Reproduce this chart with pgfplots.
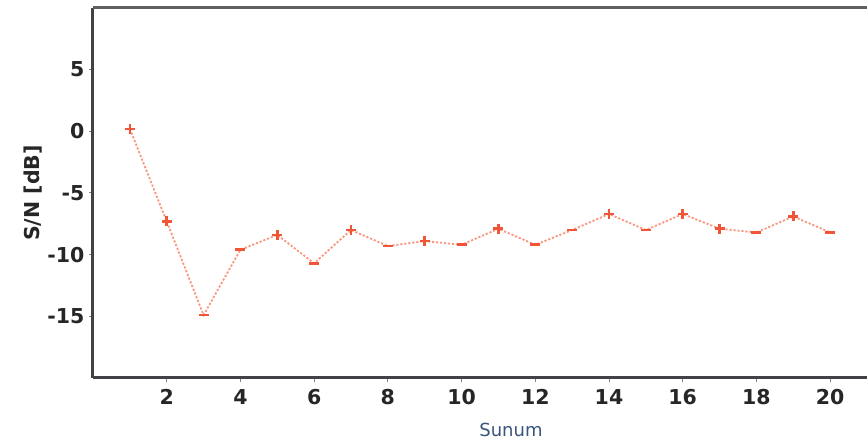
\documentclass[border=0pt]{standalone}
\usepackage{fontspec}
\setmainfont{DejaVu Sans}
\usepackage{pgfplots}
\pgfplotsset{compat=1.18}
\definecolor{linec}{RGB}{248,125,95}
\definecolor{markc}{RGB}{240,85,55}
\definecolor{axc}{RGB}{65,65,70}
\definecolor{labc}{RGB}{55,85,125}
\begin{document}
\begin{tikzpicture}
\begin{axis}[
  scale only axis,
  width=774pt, height=370pt,
  xmin=0, xmax=21, ymin=-20, ymax=10,
  axis lines*=left,
  axis line style={axc, line width=3pt},
  xtick={2,4,...,20},
  ytick={-15,-10,-5,0,5},
  tick style={gray, line width=1pt},
  tick align=outside,
  major tick length=4pt,
  /pgf/number format/assume math mode=true,
  ticklabel style={font=\fontsize{20.5}{22}\selectfont\bfseries, text=black!85},
  xticklabel style={yshift=-4pt},
  yticklabel style={xshift=-1pt},
  xlabel={Sunum},
  xlabel style={at={(axis description cs:0.54,-0.1405)}, anchor=center, font=\fontsize{18}{20}\selectfont, text=labc},
  ylabel={S/N [dB]},
  ylabel style={at={(axis description cs:-0.0775,0.5)}, anchor=center, rotate=0, font=\fontsize{20.5}{22}\selectfont\bfseries, text=black!85},
  clip=false,
]
\addplot[linec, line width=1.8pt, dash pattern=on 2.2pt off 1.8pt, opacity=0.8] coordinates {
(1,0.2) (2,-7.3) (3,-14.9) (4,-9.6) (5,-8.4) (6,-10.7) (7,-8.0) (8,-9.3) (9,-8.9) (10,-9.2)
(11,-7.9) (12,-9.2) (13,-8.0) (14,-6.7) (15,-8.0) (16,-6.7) (17,-7.9) (18,-8.2) (19,-6.9) (20,-8.2)
};
\addplot[only marks, mark=+, mark size=5pt, markc, line width=2.6pt] coordinates {
(1,0.2) (2,-7.3) (5,-8.4) (7,-8.0) (9,-8.9) (11,-7.9) (14,-6.7) (16,-6.7) (17,-7.9) (19,-6.9)
};
\addplot[only marks, mark=-, mark size=5pt, markc, line width=2.6pt] coordinates {
(3,-14.9) (4,-9.6) (6,-10.7) (8,-9.3) (10,-9.2) (12,-9.2) (13,-8.0) (15,-8.0) (18,-8.2) (20,-8.2)
};
\draw[gray!75!black, line width=3pt] (rel axis cs:0,1) -- (rel axis cs:1,1);
\coordinate (sw) at (rel axis cs:0,0);
\coordinate (ne) at (rel axis cs:1,1);
\end{axis}
\pgfresetboundingbox
\useasboundingbox ([shift={(-93pt,-65pt)}]sw) rectangle ([shift={(0pt,8pt)}]ne);
\end{tikzpicture}
\end{document}
